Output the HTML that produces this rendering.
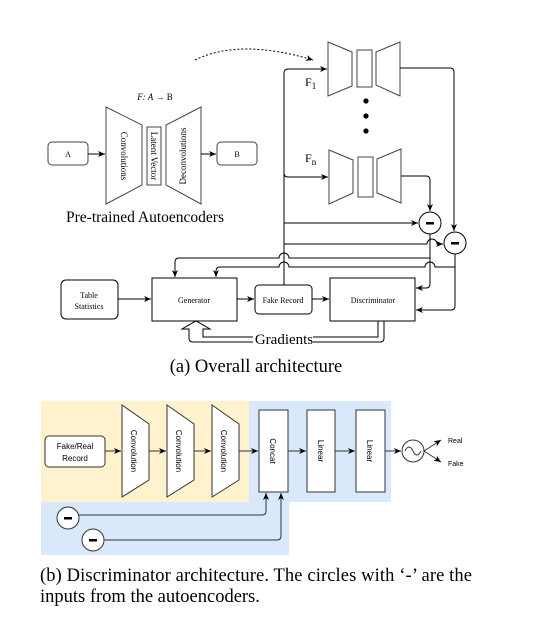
<!DOCTYPE html>
<html><head><style>
html,body{margin:0;padding:0;background:#fff;}
svg{display:block;}
text{font-family:"Liberation Serif",serif;fill:#000;}
.s{font-family:"Liberation Sans",sans-serif;}
</style></head><body>
<svg width="534" height="617" viewBox="0 0 534 617" xmlns="http://www.w3.org/2000/svg">
<defs>
<marker id="a" markerWidth="8" markerHeight="8" refX="7" refY="4" orient="auto" markerUnits="userSpaceOnUse">
<path d="M0,1 L7,4 L0,7 L2,4 Z" fill="#000"/></marker>
</defs>
<g fill="none" stroke="#000" stroke-width="1">
<path d="M195,60 Q240,38 313,60" stroke-dasharray="2,2" marker-end="url(#a)"/>
<path d="M328,42 L352,52 L352,86 L328,96 Z" stroke="#444"/>
<rect x="357" y="50" width="15" height="37" stroke="#444"/>
<path d="M400,42 L376,52 L376,85 L400,96 Z" stroke="#444"/>
<path d="M329,150 L353,160 L353,193 L329,204 Z" stroke="#444"/>
<rect x="358" y="157" width="15" height="40" stroke="#444"/>
<path d="M401,149 L377,159 L377,193 L401,203 Z" stroke="#444"/>
<path d="M284,285 L284,73 Q284,69 288,69 L327,69" marker-end="url(#a)"/>
<path d="M284,173 Q284,177 288,177 L328,177" marker-end="url(#a)"/>
<path d="M400,68 L450,68 Q454,68 454,72 L454,231" marker-end="url(#a)"/>
<path d="M401,176 L426,176 Q430,176 430,180 L430,211" marker-end="url(#a)"/>
<circle cx="430" cy="223" r="11"/>
<circle cx="455" cy="243" r="11"/>
<path d="M284,223 L418,223" marker-end="url(#a)"/>
<path d="M284,244 L427,244 A5,5 0 0 1 437,244 L443,244" marker-end="url(#a)"/>
<path d="M430,234 L430,284 Q430,288 426,288 L416,288" marker-end="url(#a)"/>
<path d="M455,254 L455,306 Q455,310 451,310 L416,310" marker-end="url(#a)"/>
<path d="M430,258 L289,258 A5,5 0 0 0 279,258 L179,258 Q175,258 175,262 L175,277" marker-end="url(#a)"/>
<path d="M455,267 L435,267 A5,5 0 0 0 425,267 L289,267 A5,5 0 0 0 279,267 L220,267 Q216,267 216,271 L216,277" marker-end="url(#a)"/>
<rect x="61" y="280" width="57" height="39" rx="5"/>
<rect x="152" y="278" width="85" height="43"/>
<rect x="255" y="285" width="57" height="29" rx="4"/>
<rect x="330" y="278" width="85" height="43"/>
<path d="M118,299 L151,299" marker-end="url(#a)"/>
<path d="M237,299 L254,299" marker-end="url(#a)"/>
<path d="M312,299 L329,299" marker-end="url(#a)"/>
<path d="M378,321 L378,337 L203,337 L203,329 L210,329 L196,321 L182,329 L189,329 L189,338 Q189,342 193,342 L380,342 Q384,342 384,338 L384,321"/>
<path d="M106,107 L142,125 L142,185 L106,204 Z" stroke="#444"/>
<rect x="147" y="127" width="14" height="58" stroke="#444"/>
<path d="M201,107 L166,125 L166,185 L201,204 Z" stroke="#444"/>
<rect x="48" y="142" width="40" height="23" rx="4" stroke="#444"/>
<rect x="217" y="142" width="40" height="23" rx="4" stroke="#444"/>
<path d="M88,154 L105,154" marker-end="url(#a)"/>
<path d="M201,154 L216,154" marker-end="url(#a)"/>
</g>
<circle cx="366" cy="101" r="2.6"/><circle cx="366" cy="116" r="2.6"/><circle cx="366" cy="131" r="2.6"/>
<rect x="426" y="222" width="8" height="2.5"/><rect x="451" y="242" width="8" height="2.5"/>
<text x="305" y="86" font-size="12">F<tspan font-size="9" dy="3">1</tspan></text>
<text x="305" y="162" font-size="12">F<tspan font-size="9" dy="3">n</tspan></text>
<text x="155" y="100" font-size="9" text-anchor="middle"><tspan font-style="italic">F: A</tspan> → B</text>
<text x="68" y="157" font-size="8" text-anchor="middle">A</text>
<text x="237" y="157" font-size="8" text-anchor="middle">B</text>
<text transform="translate(121,156) rotate(90)" font-size="9" text-anchor="middle">Convolutions</text>
<text transform="translate(151,156) rotate(90)" font-size="9" text-anchor="middle">Latent Vector</text>
<text transform="translate(186,156) rotate(-90)" font-size="9" text-anchor="middle">Deconvolutions</text>
<text x="145" y="222" font-size="15.5" text-anchor="middle">Pre-trained Autoencoders</text>
<text x="89" y="298" font-size="8" text-anchor="middle">Table</text>
<text x="89" y="309" font-size="8" text-anchor="middle">Statistics</text>
<text x="194" y="303" font-size="8" text-anchor="middle">Generator</text>
<text x="283" y="303" font-size="8" text-anchor="middle">Fake Record</text>
<text x="373" y="303" font-size="8" text-anchor="middle">Discriminator</text>
<rect x="253" y="332" width="60" height="13" fill="#fff"/>
<text x="284" y="344" font-size="15" text-anchor="middle">Gradients</text>
<text x="256" y="372" font-size="18.5" text-anchor="middle">(a)  Overall architecture</text>
<rect x="41" y="401" width="208" height="101" fill="#fff2cc"/>
<rect x="249" y="401" width="142" height="101" fill="#dae8fc"/>
<rect x="41" y="502" width="248" height="53" fill="#dae8fc"/>
<g fill="#fff" stroke="#333" stroke-width="1">
<rect x="45" y="436" width="60" height="31" rx="4"/>
<path d="M122,405 L149,424 L149,480 L122,497 Z"/>
<path d="M167,405 L194,424 L194,480 L167,497 Z"/>
<path d="M212,405 L239,424 L239,480 L212,497 Z"/>
<rect x="259" y="410" width="29" height="82"/>
<rect x="307" y="410" width="28" height="82"/>
<rect x="356" y="410" width="29" height="82"/>
<circle cx="413" cy="451" r="11"/>
<circle cx="68" cy="518" r="11"/>
<circle cx="93" cy="540" r="11"/>
</g>
<g fill="none" stroke="#333" stroke-width="1">
<path d="M105,451 L121,451" marker-end="url(#a)"/>
<path d="M149,451 L166,451" marker-end="url(#a)"/>
<path d="M194,451 L211,451" marker-end="url(#a)"/>
<path d="M239,451 L258,451" marker-end="url(#a)"/>
<path d="M288,451 L306,451" marker-end="url(#a)"/>
<path d="M335,451 L355,451" marker-end="url(#a)"/>
<path d="M385,451 L401,451" marker-end="url(#a)"/>
<path d="M424,451 L441,440" marker-end="url(#a)"/>
<path d="M424,451 L441,462" marker-end="url(#a)"/>
<path d="M79,515 L262,515 Q266,515 266,511 L266,493" marker-end="url(#a)"/>
<path d="M104,540 L277,540 Q281,540 281,536 L281,493" marker-end="url(#a)"/>
<path d="M405,451 Q409,443 413,451 Q417,459 421,451"/>
</g>
<rect x="64" y="517" width="8" height="2.5"/><rect x="89" y="539" width="8" height="2.5"/>
<text class="s" x="75" y="449" font-size="8" text-anchor="middle">Fake/Real</text>
<text class="s" x="75" y="461" font-size="8" text-anchor="middle">Record</text>
<text class="s" transform="translate(131,451) rotate(90)" font-size="8" text-anchor="middle">Convolution</text>
<text class="s" transform="translate(176,451) rotate(90)" font-size="8" text-anchor="middle">Convolution</text>
<text class="s" transform="translate(221,451) rotate(90)" font-size="8" text-anchor="middle">Convolution</text>
<text class="s" transform="translate(270,451) rotate(90)" font-size="8" text-anchor="middle">Concat</text>
<text class="s" transform="translate(318,451) rotate(90)" font-size="8" text-anchor="middle">Linear</text>
<text class="s" transform="translate(367,451) rotate(90)" font-size="8" text-anchor="middle">Linear</text>
<text class="s" x="448" y="443" font-size="7">Real</text>
<text class="s" x="448" y="466" font-size="7">Fake</text>
<text x="40" y="581" font-size="18.5" textLength="432">(b)  Discriminator architecture. The circles with ‘-’ are the</text>
<text x="40" y="602" font-size="18.5">inputs from the autoencoders.</text>
</svg>
</body></html>
